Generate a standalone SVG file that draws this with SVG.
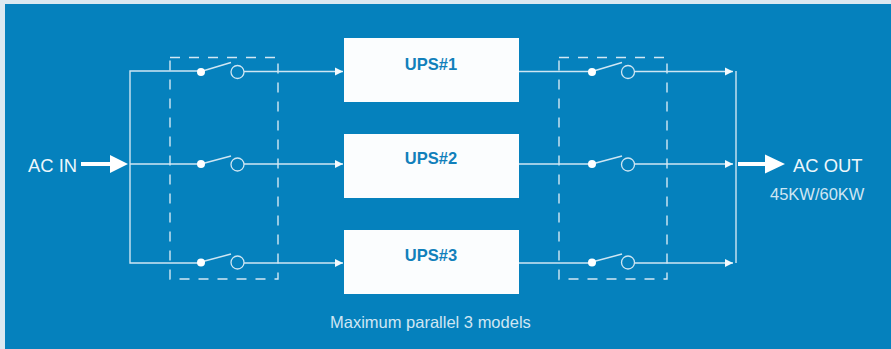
<svg xmlns="http://www.w3.org/2000/svg" width="891" height="349" viewBox="0 0 891 349">
<style>
.l{fill:none;stroke:#cfe6f3;stroke-width:1.4}
.d{fill:none;stroke:#d3e8f4;stroke-width:1.4;stroke-dasharray:10 9}
.c{fill:none;stroke:#cfe6f3;stroke-width:1.3}
.dot{fill:#fff}
.ah{fill:#f4fafd}
.box{fill:#fbfdfe}
text{font-family:"Liberation Sans",Arial,sans-serif}
.u{font-size:16.500px;font-weight:700;fill:#1180bb;text-anchor:middle}
.a{font-size:18.400px;fill:#eef7fb}
.s{font-size:16.500px;fill:#cfe6f3}
</style>
<rect width="891" height="349" fill="#dbe9f1"/>
<rect x="5" y="4" width="886" height="345" fill="#0581bd"/>
<g id="connectors">
<path class="l" d="M201 71H130V263H201M130 164H201"/>
<path class="l" d="M244 71.500H343M244 164H343M244 263H343"/>
<path class="l" d="M519 71.500H592M519 164H592M519 263H592"/>
<path class="l" d="M634.500 71.500H733M634.500 164H733M634.500 263H733"/>
<path class="l" d="M736 71V263"/>
<path class="ah" d="M343 71.500l-8-4v8zM343 164l-8-4v8zM343 263l-8-4v8zM733 71.500l-8-4v8zM733 164l-8-4v8zM733 263l-8-4v8z"/>
<path class="dot" d="M81 162h29v-7l18 9-18 9v-7H81z"/>
<path class="dot" d="M738 162h27v-7.500l20 9.500-20 9.500V166h-27z"/>
</g>
<g id="breaker-left">
<rect class="d" x="170" y="57.500" width="108" height="221.500"/>
<g id="sw-l1"><path class="l" d="M201 71.500L231 62.500"/><circle class="dot" cx="201" cy="72" r="4"/><circle class="c" cx="237.500" cy="72" r="6.500"/></g>
<g id="sw-l2"><path class="l" d="M201 164L231 156"/><circle class="dot" cx="201" cy="164" r="4"/><circle class="c" cx="237.500" cy="164.500" r="6.500"/></g>
<g id="sw-l3"><path class="l" d="M201 262L231 254"/><circle class="dot" cx="201" cy="262.500" r="4"/><circle class="c" cx="237.500" cy="262.500" r="6.500"/></g>
</g>
<g id="breaker-right">
<rect class="d" x="559" y="57.500" width="108" height="221.500"/>
<g id="sw-r1"><path class="l" d="M592 71.500L622 62.500"/><circle class="dot" cx="592" cy="72" r="4"/><circle class="c" cx="628" cy="72" r="6.500"/></g>
<g id="sw-r2"><path class="l" d="M592 164L622 156"/><circle class="dot" cx="592" cy="164" r="4"/><circle class="c" cx="628" cy="164.500" r="6.500"/></g>
<g id="sw-r3"><path class="l" d="M592 262L622 254"/><circle class="dot" cx="592" cy="262.500" r="4"/><circle class="c" cx="628" cy="262.500" r="6.500"/></g>
</g>
<g id="ups1"><rect class="box" x="344" y="38" width="175" height="64"/><text class="u" x="431" y="70">UPS#1</text></g>
<g id="ups2"><rect class="box" x="344" y="134" width="175" height="64"/><text class="u" x="431" y="164">UPS#2</text></g>
<g id="ups3"><rect class="box" x="344" y="230" width="175" height="64"/><text class="u" x="431" y="261">UPS#3</text></g>
<g id="ac-in"><text class="a" x="28" y="172">AC IN</text></g>
<g id="ac-out"><text class="a" x="793" y="172">AC OUT</text><text class="s" x="770" y="200">45KW/60KW</text></g>
<g id="note"><text class="s" x="330" y="328">Maximum parallel 3 models</text></g>
</svg>
